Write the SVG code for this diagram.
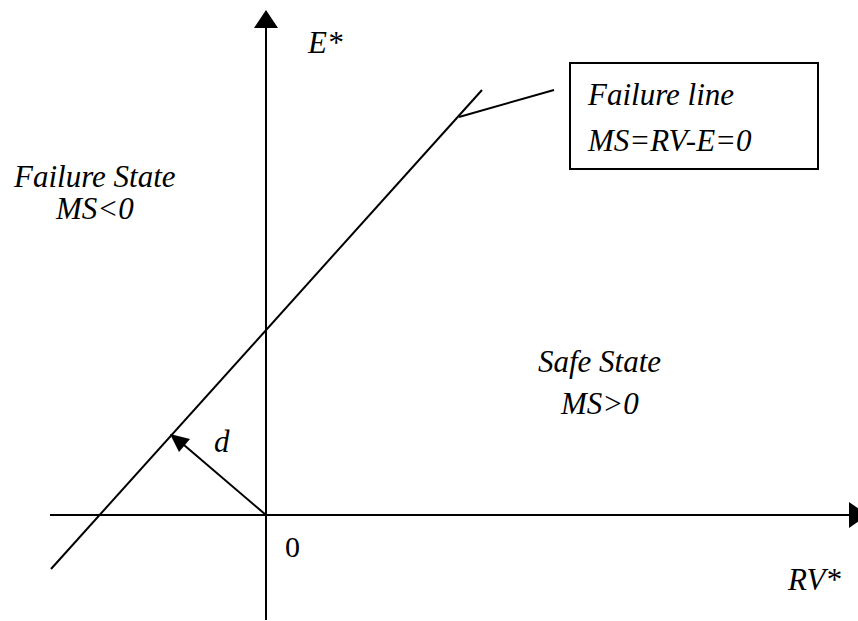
<svg xmlns="http://www.w3.org/2000/svg" width="858" height="621" viewBox="0 0 858 621">
<style>
.ln{stroke:#000;stroke-width:2;fill:none}
.t{font-family:"Liberation Serif","Times New Roman",Tinos,"DejaVu Serif",serif;font-style:italic;font-size:31px;fill:#000}
.u{font-family:"Liberation Serif","Times New Roman",Tinos,"DejaVu Serif",serif;font-size:30px;fill:#000}
</style>
<rect width="858" height="621" fill="#fff"/>
<g id="connectors">
<line class="ln" x1="266" y1="620" x2="266" y2="28"/>
<polygon points="266,10 254,28 278,28" fill="#000"/>
<line class="ln" x1="50" y1="515" x2="850" y2="515"/>
<polygon points="868,515 849,502 849,528" fill="#000"/>
<line class="ln" x1="51" y1="569" x2="482" y2="90"/>
<line class="ln" x1="459" y1="117" x2="554" y2="90"/>
<line class="ln" x1="266" y1="515" x2="184" y2="445"/>
<polygon points="170,434 190,439 179,452" fill="#000"/>
</g>
<g id="failure-line-box">
<rect x="570" y="63" width="248" height="106" fill="#fff" stroke="#000" stroke-width="2"/>
<text class="t" x="588" y="105">Failure line</text>
<text class="t" x="588" y="151">MS=RV-E=0</text>
</g>
<g id="failure-state">
<text class="t" x="14" y="187">Failure State</text>
<text class="t" x="56" y="219">MS&lt;0</text>
</g>
<g id="safe-state">
<text class="t" x="538" y="372">Safe State</text>
<text class="t" x="561" y="414">MS&gt;0</text>
</g>
<g id="labels">
<text class="t" x="308" y="53">E*</text>
<text class="t" x="788" y="590">RV*</text>
<text class="t" x="214" y="452">d</text>
<text class="u" x="285" y="557">0</text>
</g>
</svg>
